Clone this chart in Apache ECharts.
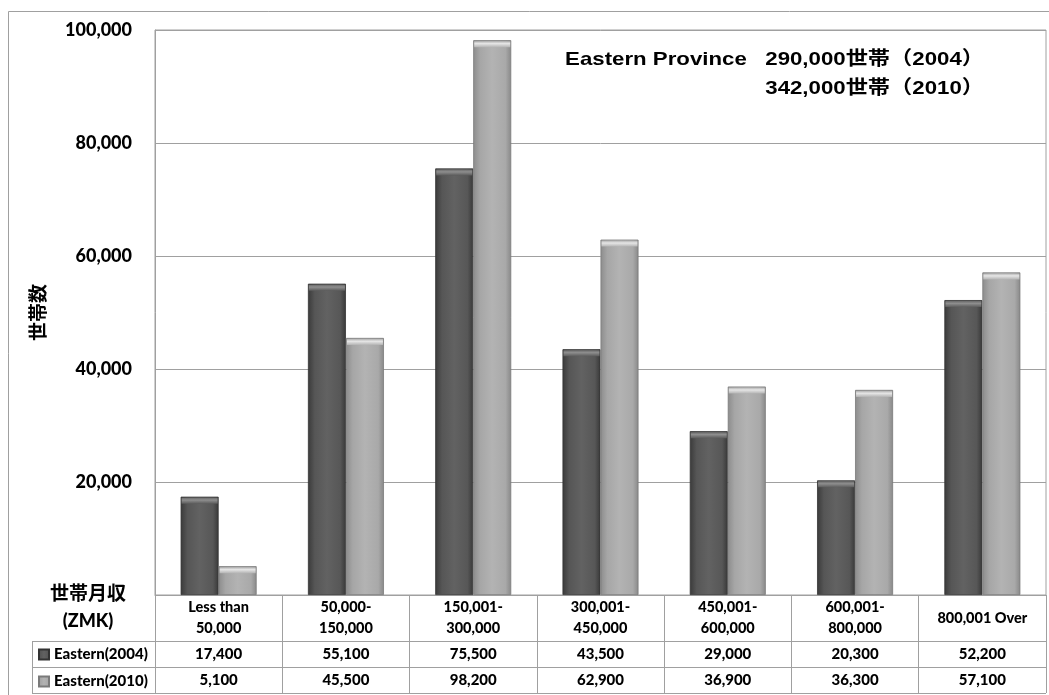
<!DOCTYPE html>
<html>
<head>
<meta charset="utf-8">
<script src="https://cdn.jsdelivr.net/npm/echarts@6/dist/echarts.min.js"></script>
<style>
  html, body { margin: 0; padding: 0; background: #ffffff; }
  #chart { width: 1049px; height: 695px; }
</style>
</head>
<body>
<div id="chart"></div>
<script>
// Monthly household income brackets (ZMK)
const categories = [
  'Less than\n50,000', '50,000-\n150,000', '150,001-\n300,000', '300,001-\n450,000',
  '450,001-\n600,000', '600,001-\n800,000', '800,001 Over'
];
const seriesNames = ['Eastern(2004)', 'Eastern(2010)'];
// Number of households per bracket
const households2004 = [17400, 55100, 75500, 43500, 29000, 20300, 52200];
const households2010 = [5100, 45500, 98200, 62900, 36900, 36300, 57100];
const titleLines = ['Eastern Province   290,000世帯（2004）', '342,000世帯（2010）'];

const LINE = '#a0a0a0';
const LATO = 'Lato, "Noto Sans CJK JP", sans-serif';
const CJK = '"Noto Sans CJK JP", Lato, sans-serif';
const fmt = v => v.toLocaleString('en-US');

// plot box and data table geometry
const G = { left: 155, right: 1046, top: 30, bottom: 595 };
const tableLeft = 32;
const rowLines = [641, 667, 693];
const BAR_W = 38;

const darkFill = new echarts.graphic.LinearGradient(0, 0, 1, 0, [
  { offset: 0, color: '#3a3a3a' }, { offset: 0.18, color: '#565656' },
  { offset: 0.5, color: '#626262' }, { offset: 0.85, color: '#575757' },
  { offset: 1, color: '#383838' }
]);
const lightFill = new echarts.graphic.LinearGradient(0, 0, 1, 0, [
  { offset: 0, color: '#8c8c8c' }, { offset: 0.18, color: '#a6a6a6' },
  { offset: 0.5, color: '#b3b3b3' }, { offset: 0.85, color: '#a9a9a9' },
  { offset: 1, color: '#888888' }
]);
// bevel highlight along the top of each bar
const darkCap = new echarts.graphic.LinearGradient(0, 0, 0, 1, [
  { offset: 0, color: '#6a6a6a' }, { offset: 0.4, color: '#8e8e8e' }, { offset: 1, color: '#5c5c5c' }
]);
const lightCap = new echarts.graphic.LinearGradient(0, 0, 0, 1, [
  { offset: 0, color: '#b0b0b0' }, { offset: 0.4, color: '#e6e6e6' }, { offset: 1, color: '#b4b4b4' }
]);

function tableAxis(values, margin) {
  return {
    type: 'category', gridIndex: 0, position: 'bottom',
    data: values.map(fmt),
    axisLine: { show: false }, axisTick: { show: false }, splitLine: { show: false },
    axisLabel: {
      interval: 0, margin: margin, verticalAlign: 'middle',
      color: '#000', fontFamily: LATO, fontWeight: 900, fontSize: 15
    }
  };
}

function capSeries(values, dx, fill) {
  return {
    type: 'pictorialBar', data: values, silent: true, z: 3,
    symbol: 'rect', symbolPosition: 'end', symbolSize: [BAR_W - 2, 6],
    symbolOffset: [dx, 1],
    itemStyle: { color: fill }
  };
}

const chart = echarts.init(document.getElementById('chart'), null, { renderer: 'canvas' });

const graphics = [
  // outer frame
  { type: 'rect', shape: { x: 8.5, y: 11.5, width: 1100, height: 700 },
    style: { fill: null, stroke: LINE, lineWidth: 1 }, silent: true },
  // table rule lines
  ...rowLines.map(y => ({
    type: 'line', shape: { x1: tableLeft, y1: y + 0.5, x2: G.right, y2: y + 0.5 },
    style: { stroke: LINE, lineWidth: 1 }, silent: true
  })),
  { type: 'line', shape: { x1: tableLeft + 0.5, y1: rowLines[0], x2: tableLeft + 0.5, y2: rowLines[2] },
    style: { stroke: LINE, lineWidth: 1 }, silent: true },
  // corner header of the table
  { type: 'text', x: 88, y: 593,
    style: { text: '世帯月収', font: 'bold 19px ' + CJK, fill: '#000', align: 'center', verticalAlign: 'middle' } },
  { type: 'text', x: 88, y: 621,
    style: { text: '(ZMK)', font: '900 18px ' + LATO, fill: '#000', align: 'center', verticalAlign: 'middle' } },
  // province totals
  ...titleLines.map((t, i) => ({
    type: 'text', x: 984, y: 60 + i * 29, scaleX: 1.17, originX: 0, originY: 0, z: 100,
    style: { text: t, font: 'bold 19px "Liberation Sans", "Noto Sans CJK JP", sans-serif',
      fill: '#000', align: 'right', verticalAlign: 'middle' }
  }))
];

chart.setOption({
  animation: false,
  backgroundColor: '#ffffff',
  grid: {
    left: G.left, right: 1049 - G.right, top: G.top, bottom: 695 - G.bottom,
    show: true, borderColor: LINE, borderWidth: 1, containLabel: false
  },
  legend: {
    orient: 'vertical', left: 38, top: 647, padding: 0,
    data: seriesNames, selectedMode: false,
    icon: 'rect', itemWidth: 10, itemHeight: 10, itemGap: 12,
    textStyle: { color: '#000', fontFamily: LATO, fontWeight: 900, fontSize: 15, lineHeight: 14 }
  },
  xAxis: [
    {
      type: 'category', data: categories, position: 'bottom',
      axisLine: { lineStyle: { color: LINE, width: 1 } },
      axisTick: { show: true, length: 98, lineStyle: { color: LINE, width: 1 } },
      axisLabel: {
        interval: 0, margin: 23, verticalAlign: 'middle', lineHeight: 21,
        color: '#000', fontFamily: LATO, fontWeight: 900, fontSize: 14.5
      },
      splitLine: { show: false }
    },
    tableAxis(households2004, 59),
    tableAxis(households2010, 85)
  ],
  yAxis: {
    type: 'value', min: 0, max: 100000, interval: 20000,
    name: '世帯数', nameLocation: 'middle', nameRotate: 90, nameGap: 108,
    nameTextStyle: { color: '#000', fontFamily: CJK, fontWeight: 'bold', fontSize: 19 },
    axisLine: { show: true, lineStyle: { color: LINE } },
    axisTick: { show: false },
    axisLabel: {
      margin: 23, color: '#000', fontFamily: LATO, fontWeight: 900, fontSize: 18,
      formatter: v => (v === 0 ? '' : fmt(v))
    },
    splitLine: { lineStyle: { color: LINE, width: 1 } }
  },
  series: [
    {
      name: seriesNames[0], type: 'bar', data: households2004,
      barWidth: BAR_W, barGap: '0%',
      itemStyle: { color: darkFill, borderColor: '#333333', borderWidth: 0.8 }
    },
    {
      name: seriesNames[1], type: 'bar', data: households2010,
      barWidth: BAR_W, barGap: '0%',
      itemStyle: { color: lightFill, borderColor: '#7a7a7a', borderWidth: 0.8 }
    },
    capSeries(households2004, -BAR_W / 2, darkCap),
    capSeries(households2010, BAR_W / 2, lightCap)
  ],
  graphic: graphics
});
</script>
</body>
</html>
